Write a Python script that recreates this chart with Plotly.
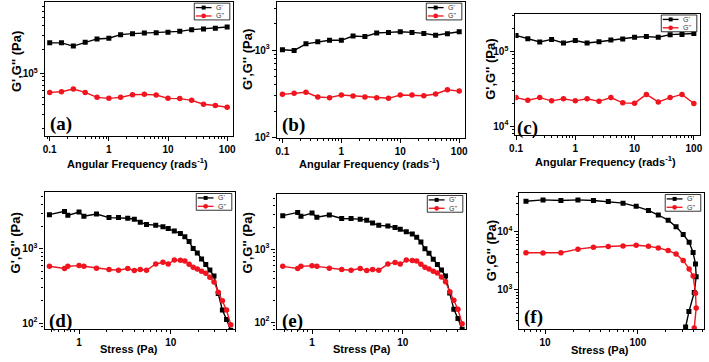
import math
import plotly.graph_objects as go

# ---------------- data ----------------
freq = [0.1, 0.158, 0.251, 0.398, 0.631, 1.0, 1.58, 2.51, 3.98, 6.31,
        10.0, 15.8, 25.1, 39.8, 63.1, 100.0]

gp_a = [2.42e5, 2.42e5, 2.20e5, 2.46e5, 2.71e5, 2.77e5, 3.07e5, 3.16e5,
        3.22e5, 3.25e5, 3.29e5, 3.38e5, 3.55e5, 3.62e5, 3.69e5, 3.83e5]
gpp_a = [5.73e4, 5.84e4, 6.31e4, 5.73e4, 4.96e4, 4.82e4, 4.96e4, 5.36e4,
         5.41e4, 5.31e4, 4.82e4, 4.78e4, 4.55e4, 4.06e4, 3.91e4, 3.72e4]

gp_b = [1009, 991, 1178, 1242, 1294, 1294, 1449, 1426,
        1567, 1592, 1622, 1592, 1552, 1476, 1538, 1622]
gpp_b = [312, 321, 329, 291, 286, 307, 299, 291,
         286, 281, 307, 307, 301, 315, 352, 340]

gp_c = [1.64e5, 1.48e5, 1.34e5, 1.45e5, 1.30e5, 1.40e5, 1.30e5, 1.35e5,
        1.42e5, 1.47e5, 1.55e5, 1.58e5, 1.55e5, 1.68e5, 1.69e5, 1.74e5]
gpp_c = [2.41e4, 2.22e4, 2.41e4, 2.18e4, 2.33e4, 2.18e4, 2.33e4, 2.15e4,
         2.41e4, 2.05e4, 2.03e4, 2.66e4, 2.11e4, 2.41e4, 2.66e4, 2.01e4]

stress_de = [0.476, 0.695, 0.755, 1.0, 1.13, 1.55, 2.12, 2.69, 3.39, 4.0,
             4.64, 5.43, 6.84, 8.2, 9.36, 10.9, 12.7, 14.2, 15.8, 17.5,
             19.4, 21.6, 24.0, 26.6, 29.5, 32.8, 36.4, 40.4, 44.9]
gp_de = [2884, 3192, 2825, 3133, 2741, 2946, 2632, 2632, 2581, 2503,
         2281, 2123, 2083, 1979, 1879, 1733, 1614, 1458, 1250, 1010,
         880, 730, 615, 520, 430, 250, 150, 112, 80]
gpp_de = [582, 543, 582, 594, 582, 548, 526, 515, 543, 510,
          526, 515, 625, 659, 625, 708, 700, 686, 620, 565,
          535, 497, 470, 415, 357, 260, 200, 150, 95]

stress_f = [6.22, 9.5, 14.8, 22.6, 33.2, 48, 69.2, 95.9, 130, 166,
            212, 258, 308, 357, 394, 418, 425, 405, 355, 327]
gp_f = [33500, 35300, 34400, 35300, 34400, 33100, 31000, 27300, 23300, 19400,
        15800, 12200, 9010, 6590, 4400, 2790, 1680, 902, 424, 230]
gpp_f = [4350, 4300, 4350, 5020, 5420, 5570, 5710, 5860, 5640, 5280,
         4770, 4130, 3220, 2300, 1730, 879, 489, 221, None, None]

freq_ticks = [0.1, 1, 10, 100]
freq_ticktext = ["0.1", "1", "10", "100"]
stress_ticks_de = [1, 10]
stress_ticktext_de = ["1", "10"]
stress_ticks_f = [10, 100]
stress_ticktext_f = ["10", "100"]

series_names = ["G'", "G''"]
freq_title = "Angular Frequency (rads<sup>-1</sup>)"
stress_title = "Stress (Pa)"
y_title = "G',G'' (Pa)"

# ---------------- layout helpers ----------------
W, H = 709, 362
BLACK = "#000000"
RED = "#f0141e"
SANS = "Liberation Sans, Arial, sans-serif"
SERIF = "Liberation Serif, Times New Roman, serif"


def px(x):
    return x / W


def py(y):
    return 1 - y / H


def minor_vals(r):
    out = []
    for d in range(math.floor(r[0]) - 1, math.ceil(r[1]) + 1):
        for m in range(2, 10):
            v = m * 10 ** d
            if r[0] <= math.log10(v) <= r[1]:
                out.append(v)
    return out


panels = [
    dict(x=freq, gp=gp_a, gpp=gpp_a, box=(39.3, 230, 2, 137.5),
         xr=[-1.083, 2.1], yr=[4.2125, 5.9],
         xt=freq_ticks, xtt=freq_ticktext, yt=[1e5], ytt=["10<sup>5</sup>"],
         xtitle=freq_title, xtp=(133, 165), ytp=(10, 62), lab="(a)", labp=(56, 126)),
    dict(x=freq, gp=gp_b, gpp=gpp_b, box=(274.3, 465, 2, 139.5),
         xr=[-1.095, 2.1], yr=[2.0, 3.55],
         xt=freq_ticks, xtt=freq_ticktext, yt=[1e2, 1e3],
         ytt=["10<sup>2</sup>", "10<sup>3</sup>"],
         xtitle=freq_title, xtp=(368, 165), ytp=(244, 60), lab="(b)", labp=(291, 127)),
    dict(x=freq, gp=gp_c, gpp=gpp_c, box=(516, 703, 14, 137),
         xr=[-1.01, 2.105], yr=[3.88, 5.504],
         xt=freq_ticks, xtt=freq_ticktext, yt=[1e4, 1e5],
         ytt=["10<sup>4</sup>", "10<sup>5</sup>"],
         xtitle=freq_title, xtp=(607, 163), ytp=(490, 70), lab="(c)", labp=(528, 130)),
    dict(x=stress_de, gp=gp_de, gpp=gpp_de, box=(39, 232, 195, 334),
         xr=[-0.376, 1.699], yr=[1.915, 3.761],
         xt=stress_ticks_de, xtt=stress_ticktext_de, yt=[1e2, 1e3],
         ytt=["10<sup>2</sup>", "10<sup>3</sup>"],
         xtitle=stress_title, xtp=(125, 354), ytp=(10, 246), lab="(d)", labp=(55, 325)),
    dict(x=stress_de, gp=gp_de, gpp=gpp_de, box=(274, 466, 197, 334),
         xr=[-0.391, 1.696], yr=[1.90, 3.753],
         xt=stress_ticks_de, xtt=stress_ticktext_de, yt=[1e2, 1e3],
         ytt=["10<sup>2</sup>", "10<sup>3</sup>"],
         xtitle=stress_title, xtp=(361, 354), ytp=(245, 246), lab="(e)", labp=(290, 326)),
    dict(x=stress_f, gp=gp_f, gpp=gpp_f, box=(520, 707, 196, 334),
         xr=[0.723, 2.713], yr=[2.322, 4.661],
         xt=stress_ticks_f, xtt=stress_ticktext_f, yt=[1e3, 1e4],
         ytt=["10<sup>3</sup>", "10<sup>4</sup>"],
         xtitle=stress_title, xtp=(602, 355), ytp=(492, 254), lab="(f)", labp=(534, 321)),
]

fig = go.Figure()
layout = dict(width=W, height=H, margin=dict(l=0, r=0, t=0, b=0),
              paper_bgcolor="white", plot_bgcolor="white", showlegend=False)
annotations = []
shapes = []

tickfont = dict(family=SANS, size=10, color=BLACK, weight="bold")

for i, p in enumerate(panels):
    n = i + 1
    sfx = "" if n == 1 else str(n)
    xa, ya = "x" + sfx, "y" + sfx
    L, R, T, B = p["box"]
    fig.add_trace(go.Scatter(
        x=p["x"], y=p["gp"], xaxis=xa, yaxis=ya, mode="lines+markers",
        name=series_names[0], line=dict(color=BLACK, width=1.4),
        marker=dict(symbol="square", size=5, color=BLACK), connectgaps=False))
    fig.add_trace(go.Scatter(
        x=p["x"], y=p["gpp"], xaxis=xa, yaxis=ya, mode="lines+markers",
        name=series_names[1], line=dict(color=RED, width=1.4),
        marker=dict(symbol="circle", size=5.5, color=RED), connectgaps=False))

    common = dict(type="log", showline=True, linecolor=BLACK, linewidth=1.2,
                  mirror=True, ticks="outside", ticklen=4, tickwidth=1,
                  tickcolor=BLACK, showgrid=False, zeroline=False,
                  tickfont=tickfont, tickmode="array")
    layout["xaxis" + sfx] = dict(
        common, domain=[px(L), px(R)], range=p["xr"], anchor=ya,
        tickvals=p["xt"], ticktext=p["xtt"],
        minor=dict(tickmode="array", tickvals=minor_vals(p["xr"]),
                   ticks="outside", ticklen=2, tickcolor=BLACK, showgrid=False))
    layout["yaxis" + sfx] = dict(
        common, domain=[py(B), py(T)], range=p["yr"], anchor=xa,
        tickvals=p["yt"], ticktext=p["ytt"],
        minor=dict(tickmode="array", tickvals=minor_vals(p["yr"]),
                   ticks="outside", ticklen=2, tickcolor=BLACK, showgrid=False))

    # axis titles
    annotations.append(dict(
        x=px(p["xtp"][0]), y=py(p["xtp"][1]), xref="paper", yref="paper",
        text=p["xtitle"], showarrow=False, xanchor="center", yanchor="middle",
        font=dict(family=SANS, size=11, color=BLACK, weight="bold")))
    annotations.append(dict(
        x=px(p["ytp"][0]), y=py(p["ytp"][1]), xref="paper", yref="paper",
        text=y_title, showarrow=False, textangle=-90, xanchor="center",
        yanchor="middle",
        font=dict(family=SANS, size=13, color=BLACK, weight="bold")))
    # panel label
    annotations.append(dict(
        x=px(p["labp"][0]), y=py(p["labp"][1]), xref="paper", yref="paper",
        text=p["lab"], showarrow=False, xanchor="center", yanchor="middle",
        font=dict(family=SERIF, size=19, color=BLACK, weight="bold")))

    # legend box (top-right inside the plot)
    bx1 = R - 3.3
    bx0 = bx1 - 36
    by0 = T + 1.2
    by1 = by0 + 17
    shapes.append(dict(type="rect", xref="paper", yref="paper",
                       x0=px(bx0), x1=px(bx1), y0=py(by1), y1=py(by0),
                       line=dict(color=BLACK, width=0.8), fillcolor="white"))
    for k, (col, sym) in enumerate([(BLACK, "square"), (RED, "circle")]):
        ry = by0 + 4.5 + k * 8.5
        shapes.append(dict(type="line", xref="paper", yref="paper",
                           x0=px(bx0 + 1.5), x1=px(bx0 + 17.5),
                           y0=py(ry), y1=py(ry), line=dict(color=col, width=1.3)))
        cx = bx0 + 9.5
        if sym == "square":
            shapes.append(dict(type="rect", xref="paper", yref="paper",
                               x0=px(cx - 2), x1=px(cx + 2), y0=py(ry + 2), y1=py(ry - 2),
                               line=dict(width=0), fillcolor=col))
        else:
            shapes.append(dict(type="circle", xref="paper", yref="paper",
                               x0=px(cx - 2.4), x1=px(cx + 2.4), y0=py(ry + 2.4),
                               y1=py(ry - 2.4), line=dict(width=0), fillcolor=col))
        annotations.append(dict(
            x=px(bx0 + 20), y=py(ry), xref="paper", yref="paper",
            text=series_names[k], showarrow=False, xanchor="left", yanchor="middle",
            font=dict(family=SANS, size=7, color="#333333")))

layout["annotations"] = annotations
layout["shapes"] = shapes
fig.update_layout(**layout)
fig.write_html("out.html", config={"displayModeBar": False},
               post_script="document.body.style.margin='0';document.body.style.overflow='hidden';")
